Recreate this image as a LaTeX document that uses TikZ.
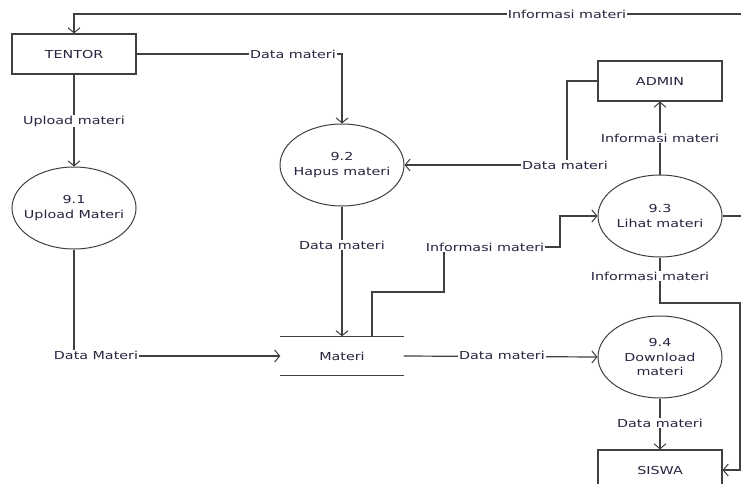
\documentclass[tikz,border=0pt]{standalone}
\usepackage{fontspec}
\setmainfont{DejaVu Sans}[FakeStretch=1.3]
\usetikzlibrary{shapes.geometric,arrows.meta}
\definecolor{ln}{HTML}{404040}
\definecolor{tx}{HTML}{2A2440}
\begin{document}
\begin{tikzpicture}[x=1pt,y=-1pt,
  font=\fontsize{11}{14.5}\selectfont, text=tx,
  entity/.style={draw=ln,line width=1.2pt,minimum width=124pt,minimum height=40pt,inner sep=0pt},
  proc/.style={draw=ln,line width=1pt,ellipse,minimum width=124pt,minimum height=82pt,inner xsep=-25pt,inner ysep=0pt,align=center},
  store/.style={minimum width=123pt,minimum height=39pt,inner sep=0pt},
  flow/.style={draw=ln,line width=1.2pt,-{Straight Barb[length=5pt,width=12pt,line width=1pt]}},
  plain/.style={draw=ln,line width=1.2pt},
  lbl/.style={fill=white,inner sep=1pt}]
\useasboundingbox (0,0) rectangle (741,484);
\clip (0,0) rectangle (741,484);
\fill[white] (0,0) rectangle (741,484);

% nodes
\node[entity] (tentor) at (74,54) {TENTOR};
\node[entity] (admin) at (660,81) {ADMIN};
\node[entity] (siswa) at (660,470) {SISWA};
\node[proc] (p1) at (74,208) {9.1\\Upload Materi};
\node[proc] (p2) at (342,165) {9.2\\Hapus materi};
\node[proc] (p3) at (660,216) {9.3\\Lihat materi};
\node[proc] (p4) at (660,357) {9.4\\Download\\materi};
\node[store] (store) at (342,356) {Materi};
\draw[plain] (store.north west) -- (store.north east);
\draw[plain] (store.south west) -- (store.south east);

\coordinate (eTop) at (741,14);
\coordinate (eMid) at (741,216);
\coordinate (eRight) at (740,303);

% flows
\draw[flow] (eTop) -| (tentor.north);
\node[lbl] at (567,14) {Informasi materi};

\draw[flow] (tentor.east) -| (p2.north);
\node[lbl] at (293,54) {Data materi};

\draw[flow] (tentor.south) -- (p1.north);
\node[lbl] at (74,121) {Upload materi};

\draw[flow] (p1.south) |- (store.west);
\node[lbl] at (96,355) {Data Materi};

\draw[flow] (p2.south) -- (p2.south |- store.north);
\node[lbl] at (342,245) {Data materi};

\draw[flow] ([xshift=30pt]store.north) |- (444,292) |- (560,247) |- (p3.west);
\node[lbl] at (485,247) {Informasi materi};

\draw[flow] (p3.north) -- (admin.south);
\node[lbl] at (660,138) {Informasi materi};

\draw[flow] (admin.west) -| (567,165) -- (p2.east);
\node[lbl] at (565,165) {Data materi};

\draw[plain] (p3.east) -- (eMid);

\draw[flow] (p3.south) |- (eRight) |- (siswa.east);
\node[lbl] at (650,276) {Informasi materi};

\draw[flow] (store.east) -- (p4.west);
\node[lbl] at (502,355) {Data materi};

\draw[flow] (p4.south) -- (siswa.north);
\node[lbl] at (660,423) {Data materi};
\end{tikzpicture}
\end{document}
